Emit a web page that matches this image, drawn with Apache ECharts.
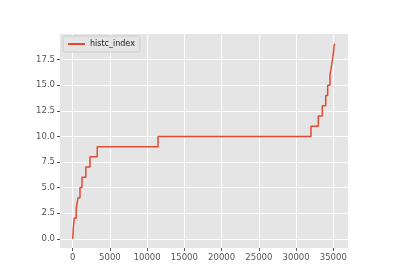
<!DOCTYPE html>
<html>
<head>
<meta charset="utf-8">
<script src="https://cdn.jsdelivr.net/npm/echarts@6/dist/echarts.min.js"></script>
<style>html,body{margin:0;padding:0;background:#fff}#c{width:400px;height:280px}</style>
</head>
<body>
<div id="c"></div>
<script>
var seriesName = 'histc_index';
// x positions where the index steps up to each value
var stepX = [0, 80, 200, 470, 710, 980, 1250, 1760, 2320, 3300, 11460, 32004, 32985, 33522, 33978, 34247, 34556, 34784, 34999, 35133, 35267];
var stepY = [0, 1, 2, 3, 4, 5, 6, 7, 8, 9, 10, 11, 12, 13, 14, 15, 16, 17, 18, 19, 19];
var xTicks = [0, 5000, 10000, 15000, 20000, 25000, 30000, 35000];
var yTicks = [0, 2.5, 5, 7.5, 10, 12.5, 15, 17.5];

var data = stepX.map(function (x, i) { return [x, stepY[i]]; });
var font = 'DejaVu Sans';
var chart = echarts.init(document.getElementById('c'), null, {renderer: 'canvas'});
chart.setOption({
  animation: false,
  backgroundColor: '#ffffff',
  grid: {left: 60, top: 34, width: 288, height: 214, backgroundColor: '#E5E5E5', show: true, borderWidth: 0},
  legend: {
    left: 63, top: 36, padding: [4, 5, 4, 5],
    backgroundColor: '#E5E5E5', borderColor: '#cccccc', borderWidth: 1, borderRadius: 2,
    itemWidth: 17, itemHeight: 2, icon: 'rect',
    textStyle: {fontFamily: font, fontSize: 8, color: '#222'},
    data: [seriesName]
  },
  xAxis: {
    type: 'value', min: -1706, max: 36973,
    axisLine: {show: false, onZero: false},
    axisTick: {show: true, length: 3, lineStyle: {color: '#555'}, customValues: xTicks},
    axisLabel: {fontFamily: font, fontSize: 8.5, color: '#555', margin: 5, customValues: xTicks,
      formatter: function (v) { return String(v); }},
    splitLine: {show: true, lineStyle: {color: '#ffffff', width: 1}}
  },
  yAxis: {
    type: 'value', min: -0.9, max: 20.0,
    axisLine: {show: false, onZero: false},
    axisTick: {show: true, length: 3, lineStyle: {color: '#555'}, customValues: yTicks},
    axisLabel: {fontFamily: font, fontSize: 8.5, color: '#555', margin: 5, customValues: yTicks,
      formatter: function (v) { return v.toFixed(1); }},
    splitLine: {show: true, lineStyle: {color: '#ffffff', width: 1}}
  },
  series: [{
    name: seriesName, type: 'line', step: 'end', data: data,
    showSymbol: false, symbol: 'none',
    lineStyle: {color: '#E24A33', width: 1.5}, itemStyle: {color: '#E24A33'}
  }]
});
</script>
</body>
</html>
